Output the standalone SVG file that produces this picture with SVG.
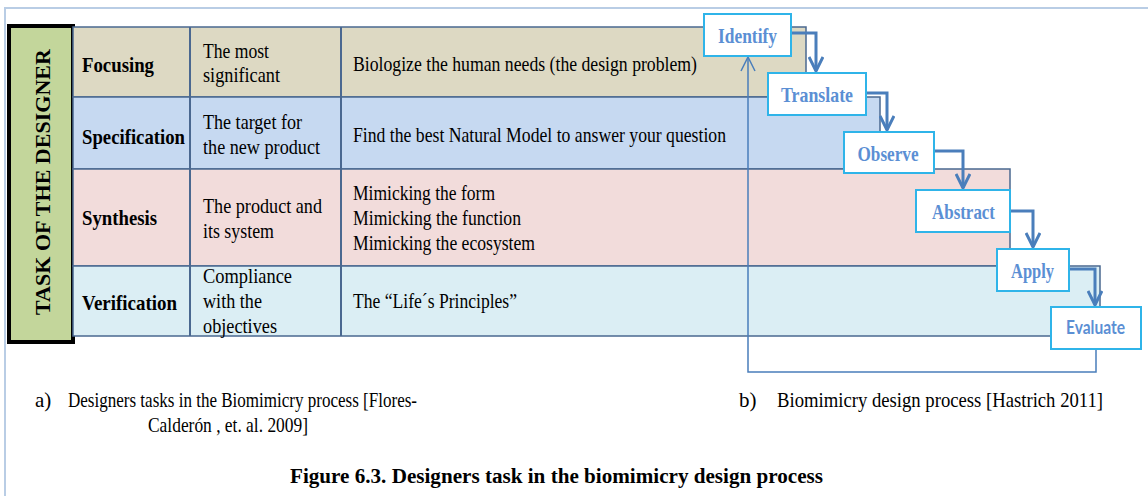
<svg xmlns="http://www.w3.org/2000/svg" width="1148" height="496" viewBox="0 0 1148 496">
<style>
.frame{fill:none;stroke:#b9cde5;stroke-width:2}
.row{stroke:#4a6890;stroke-width:1.5}
.col{stroke:#4a6890;stroke-width:2}
.lbl{font-family:"Liberation Serif","Times New Roman",serif;font-weight:bold;font-size:21px;fill:#000}
.txt{font-family:"Liberation Serif","Times New Roman",serif;font-size:21px;fill:#000}
.step rect{fill:#fff;stroke:#2fb4e9;stroke-width:2}
.stext{font-family:"Liberation Serif","Times New Roman",serif;font-weight:bold;font-size:21px;fill:#5b8fd4;text-anchor:middle}
.ssans{font-family:Lato,"Liberation Sans",sans-serif;font-weight:bold;font-size:19px;fill:#5b8fd4;text-anchor:middle}
.thick{fill:none;stroke:#4a7ebb;stroke-width:3;marker-end:url(#chev)}
.thin{fill:none;stroke:#4a7ebb;stroke-width:1.5;marker-end:url(#chevThin)}
.cap{font-family:"Liberation Serif","Times New Roman",serif;font-size:21px;fill:#000}
.title{font-family:"Liberation Serif","Times New Roman",serif;font-size:20px;font-weight:bold;fill:#000}
</style>
<defs>
<marker id="chev" markerUnits="userSpaceOnUse" viewBox="0 0 16 16" refX="15" refY="8" markerWidth="16" markerHeight="16" orient="auto">
<path d="M1,1 L15,8 L1,15" fill="none" stroke="#4a7ebb" stroke-width="3"/>
</marker>
<marker id="chevThin" markerUnits="userSpaceOnUse" viewBox="0 0 16 16" refX="15" refY="8" markerWidth="16" markerHeight="16" orient="auto">
<path d="M1,1 L15,8 L1,15" fill="none" stroke="#4a7ebb" stroke-width="1.5"/>
</marker>
</defs>
<rect width="1148" height="496" fill="#fff"/>
<path class="frame" d="M5,496 V8 H1148"/>

<g id="designer-label">
<rect x="9" y="26" width="64" height="316" fill="#c3d69b" stroke="#000" stroke-width="4"/>
<text class="lbl" text-anchor="middle" transform="translate(50,182) rotate(-90)" textLength="266" lengthAdjust="spacingAndGlyphs" style="font-size:22px">TASK OF THE DESIGNER</text>
</g>

<g id="row-focusing">
<rect class="row" x="73" y="27" width="733" height="70" fill="#ddd9c3"/>
<text class="lbl" x="82" y="72" textLength="72" lengthAdjust="spacingAndGlyphs">Focusing</text>
<text class="txt" x="203" y="58" textLength="66" lengthAdjust="spacingAndGlyphs">The most</text>
<text class="txt" x="203" y="82" textLength="77" lengthAdjust="spacingAndGlyphs">significant</text>
<text class="txt" x="353" y="71" textLength="344" lengthAdjust="spacingAndGlyphs">Biologize the human needs (the design  problem)</text>
</g>

<g id="row-specification">
<rect class="row" x="73" y="97" width="807" height="72" fill="#c6d9f1"/>
<text class="lbl" x="82" y="144" textLength="103" lengthAdjust="spacingAndGlyphs">Specification</text>
<text class="txt" x="203" y="129" textLength="99" lengthAdjust="spacingAndGlyphs">The target for</text>
<text class="txt" x="203" y="154" textLength="117" lengthAdjust="spacingAndGlyphs">the new product</text>
<text class="txt" x="353" y="142" textLength="373" lengthAdjust="spacingAndGlyphs">Find the best Natural Model to answer your question</text>
</g>

<g id="row-synthesis">
<rect class="row" x="73" y="169" width="937" height="97" fill="#f2dcdb"/>
<text class="lbl" x="82" y="225" textLength="75" lengthAdjust="spacingAndGlyphs">Synthesis</text>
<text class="txt" x="203" y="213" textLength="119" lengthAdjust="spacingAndGlyphs">The product and</text>
<text class="txt" x="203" y="238" textLength="71" lengthAdjust="spacingAndGlyphs">its system</text>
<text class="txt" x="353" y="200" textLength="142" lengthAdjust="spacingAndGlyphs">Mimicking the form</text>
<text class="txt" x="353" y="225" textLength="168" lengthAdjust="spacingAndGlyphs">Mimicking the function</text>
<text class="txt" x="353" y="250" textLength="182" lengthAdjust="spacingAndGlyphs">Mimicking the ecosystem</text>
</g>

<g id="row-verification">
<rect class="row" x="73" y="266" width="1027" height="70" fill="#dbeef4"/>
<text class="lbl" x="82" y="310" textLength="95" lengthAdjust="spacingAndGlyphs">Verification</text>
<text class="txt" x="203" y="283" textLength="89" lengthAdjust="spacingAndGlyphs">Compliance</text>
<text class="txt" x="203" y="308" textLength="59" lengthAdjust="spacingAndGlyphs">with the</text>
<text class="txt" x="203" y="333" textLength="74" lengthAdjust="spacingAndGlyphs">objectives</text>
<text class="txt" x="353" y="308" textLength="164" lengthAdjust="spacingAndGlyphs">The “Life´s Principles”</text>
</g>

<g id="table-columns">
<line class="col" x1="190" y1="27" x2="190" y2="336"/>
<line class="col" x1="341" y1="27" x2="341" y2="336"/>
</g>

<g id="connectors">
<path class="thin" d="M1096,349 V372 H748 V57"/>
<path class="thick" d="M791,33 H816 V71"/>
<path class="thick" d="M866,93 H887 V130"/>
<path class="thick" d="M934,151 H963 V188"/>
<path class="thick" d="M1010,211 H1033 V247"/>
<path class="thick" d="M1069,269 H1095 V305"/>
</g>

<g id="step-identify" class="step">
<rect x="704" y="14" width="87" height="42"/>
<text class="stext" x="747.5" y="43" textLength="59" lengthAdjust="spacingAndGlyphs">Identify</text>
</g>
<g id="step-translate" class="step">
<rect x="768" y="73" width="98" height="42"/>
<text class="stext" x="817" y="102" textLength="72" lengthAdjust="spacingAndGlyphs">Translate</text>
</g>
<g id="step-observe" class="step">
<rect x="844" y="132" width="90" height="41"/>
<text class="stext" x="888" y="161" textLength="61" lengthAdjust="spacingAndGlyphs">Observe</text>
</g>
<g id="step-abstract" class="step">
<rect x="916" y="190" width="94" height="42"/>
<text class="stext" x="963.5" y="219" textLength="63" lengthAdjust="spacingAndGlyphs">Abstract</text>
</g>
<g id="step-apply" class="step">
<rect x="997" y="249" width="72" height="42"/>
<text class="stext" x="1032.5" y="278" textLength="43" lengthAdjust="spacingAndGlyphs">Apply</text>
</g>
<g id="step-evaluate" class="step">
<rect x="1051" y="307" width="90" height="42"/>
<text class="ssans" x="1095.5" y="334" textLength="59" lengthAdjust="spacingAndGlyphs">Evaluate</text>
</g>

<g id="captions">
<text class="cap" x="35" y="407">a)</text>
<text class="cap" x="68" y="407" textLength="349" lengthAdjust="spacingAndGlyphs">Designers tasks in the Biomimicry process [Flores-</text>
<text class="cap" x="148" y="432" textLength="160" lengthAdjust="spacingAndGlyphs">Calderón , et. al. 2009]</text>
<text class="cap" x="739" y="407">b)</text>
<text class="cap" x="777" y="407" textLength="326" lengthAdjust="spacingAndGlyphs">Biomimicry design process [Hastrich 2011]</text>
<text class="title" x="290" y="483" textLength="533" lengthAdjust="spacingAndGlyphs">Figure 6.3. Designers task in the biomimicry design process</text>
</g>
</svg>
